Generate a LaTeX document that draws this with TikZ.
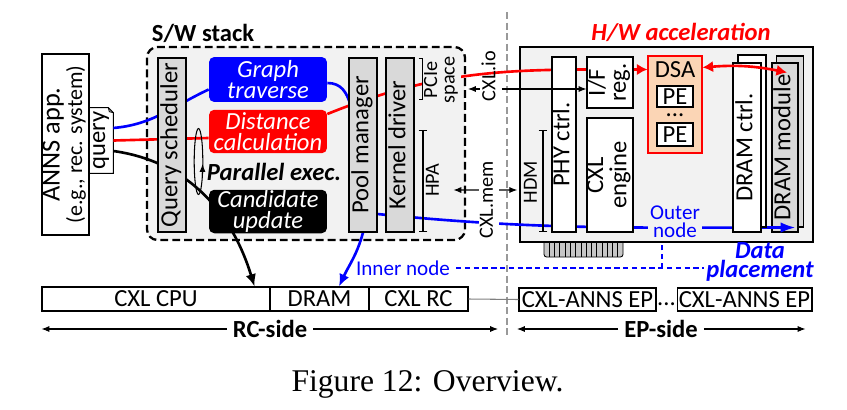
\documentclass[tikz,border=0pt]{standalone}
\usepackage{fontspec}
\setmainfont{Carlito}
\newfontfamily\capfont{Liberation Serif}
\usepackage{graphicx}
\usepackage{xcolor}
\usepackage{tikz}
\usetikzlibrary{arrows.meta,calc}

\definecolor{swgray}{HTML}{F2F2F2}
\definecolor{blkgray}{HTML}{D9D9D9}
\definecolor{dsaorange}{HTML}{FBD5B5}
\definecolor{divgray}{HTML}{999999}

\pgfdeclarelayer{back}
\pgfdeclarelayer{bg}
\pgfdeclarelayer{front}
\pgfsetlayers{back,bg,main,front}

\newcommand{\vtext}[1]{\rotatebox{90}{\begin{tabular}{@{}c@{}}#1\end{tabular}}}

\begin{document}
\begin{tikzpicture}[x=0.02cm,y=0.02cm,>={Latex[length=4.5pt,width=3.5pt]},
    font=\fontsize{14}{12}\selectfont,
    box/.style={draw,line width=0.6pt,fill=white,inner sep=0pt},
    graybox/.style={box,fill=blkgray},
    task/.style={rounded corners=3pt,inner sep=0pt,text=white,align=center,
      font=\fontsize{14}{12}\selectfont\itshape,minimum width=2.36cm,minimum height=0.87cm},
    small/.style={font=\fontsize{11.5}{10}\selectfont,inner sep=0.5pt},
    bracket/.style={line width=0.6pt,{Bar[width=5pt]}-{Bar[width=5pt]}},
    wire/.style={line width=1.5pt}]
  \useasboundingbox (0,0) rectangle (847,-409);

  % S/W stack
  \node[font=\fontsize{14}{12}\selectfont\bfseries] (swlabel) at (203,-33) {S/W stack};
  \node[box,minimum width=0.94cm,minimum height=3.62cm] (app) at (65.5,-144.5)
    {\vtext{{\fontsize{15}{12}\selectfont ANNS app.}\\{\fontsize{12.5}{12}\selectfont (e.g., rec. system)}}};
  \node[inner sep=0pt,minimum width=0.48cm,minimum height=1.30cm] (query) at (101,-140.5) {\vtext{query}};
  \node[graybox,minimum width=0.56cm,minimum height=3.48cm] (qs) at (172,-145) {\vtext{Query scheduler}};
  \node[task,fill=blue,minimum height=0.90cm] (gt) at (268,-79.5) {Graph\\traverse};
  \node[task,fill=red] (dc) at (268,-131.5) {Distance\\calculation};
  \node[task,fill=black] (cu) at (268,-211.5) {Candidate\\update};
  \node[font=\fontsize{14}{12}\selectfont\bfseries\itshape] (par) at (274,-172) {Parallel exec.};
  \draw[line width=0.6pt] (198.5,-161.5) ellipse (4.3 and 33);
  \draw[->,line width=0.6pt] (202.4,-177) -- (202.6,-164);
  \node[graybox,minimum width=0.56cm,minimum height=3.48cm] (pool) at (363,-145) {\vtext{Pool manager}};
  \node[graybox,minimum width=0.56cm,minimum height=3.48cm] (kd) at (400,-145) {\vtext{Kernel driver}};
  \draw[bracket] (423,-58) -- (423,-100);
  \node[small,fill=swgray] (pcie) at (442,-80) {\vtext{PCIe\\space}};
  \draw[bracket] (423,-130) -- (423,-232);
  \node[small] (hpa) at (435,-180) {\vtext{HPA}};
  \node[small] (cxlio) at (491,-76) {\vtext{CXL.io}};
  \node[small,fill=white] (cxlmem) at (489,-200) {\vtext{CXL.mem}};

  % H/W acceleration
  \node[text=red,font=\fontsize{14}{12}\selectfont\bfseries\itshape] (hwlabel) at (681,-32) {H/W acceleration};
  \node[box,minimum width=0.48cm,minimum height=3.50cm] (phy) at (564,-144.5) {\vtext{PHY ctrl.}};
  \node[box,minimum width=0.92cm,minimum height=1.02cm] (iff) at (610,-82.5) {\vtext{I/F\\reg.}};
  \node[box,minimum width=0.92cm,minimum height=2.28cm] (eng) at (610,-175) {\vtext{CXL\\engine}};
  \node[draw=red,line width=0.6pt,fill=dsaorange,minimum width=1.08cm,minimum height=1.94cm] (dsa) at (675,-104.5) {};
  \node (dsatxt) at (675,-70) {DSA};
  \node[box,minimum width=0.72cm,minimum height=0.42cm] (pe1) at (675,-96.5) {PE};
  \node[inner sep=0pt] (pedots) at (675,-115) {...};
  \node[box,minimum width=0.72cm,minimum height=0.46cm] (pe2) at (675,-134.5) {PE};
  \draw[bracket] (543,-130) -- (543,-232);
  \node[small] (hdm) at (533,-182) {\vtext{HDM}};
  \node[box,minimum width=0.56cm,minimum height=3.44cm] (dctrlb) at (752,-141) {};
  \node[box,minimum width=0.56cm,minimum height=3.38cm] (dctrl) at (747,-147.5) {\vtext{DRAM ctrl.}};
  \node[text=blue,fill=swgray,font=\fontsize{12}{10}\selectfont,align=center,inner sep=1pt] (outer) at (675,-222) {Outer\\node};

  % host side and end points
  \node[box,minimum width=4.56cm,minimum height=0.48cm] (cpu) at (156,-299) {CXL CPU};
  \node[box,minimum width=1.98cm,minimum height=0.48cm] (dram) at (319.5,-299) {DRAM};
  \node[box,minimum width=1.98cm,minimum height=0.48cm] (rc) at (418.5,-299) {CXL RC};
  \node[box,minimum width=2.74cm,minimum height=0.46cm] (ep1) at (587.5,-299.5) {CXL-ANNS EP};
  \node[inner sep=0pt] (epdots) at (666.5,-304) {...};
  \node[box,minimum width=2.70cm,minimum height=0.46cm] (ep2) at (744.5,-299.5) {CXL-ANNS EP};
  \draw[gray,line width=0.6pt] (rc.east) -- (ep1.west);
  \node[text=blue,font=\fontsize{12}{12}\selectfont] (inner) at (403,-268) {Inner node};
  \node[text=blue,font=\fontsize{14}{10.5}\selectfont\bfseries\itshape,align=center,inner sep=1pt] (dp) at (760,-262) {Data\\placement};

  \coordinate (divtop) at (507,-12);
  \coordinate (divbot) at (507,-338);
  \node[font=\fontsize{14}{12}\selectfont\bfseries] (rcside) at (270,-329) {RC-side};
  \node[font=\fontsize{14}{12}\selectfont\bfseries] (epside) at (661,-329) {EP-side};
  \draw[->,line width=0.6pt] (rcside.west) -- (rcside.west -| cpu.west);
  \draw[->,line width=0.6pt] (rcside.east) -- ($(rcside.east -| divbot)+(-9,0)$);
  \draw[->,line width=0.6pt] (epside.west) -- ($(epside.west -| divbot)+(10,0)$);
  \draw[->,line width=0.6pt] (epside.east) -- ($(epside.east -| ep2.east)+(-7,0)$);

  \node[font=\capfont\fontsize{18}{20}\selectfont] (caption) at (427.5,-384) {Figure 12: Overview.};

  \begin{pgfonlayer}{back}
    \draw[line width=1.3pt,dash pattern=on 4.5pt off 2.3pt,rounded corners=6pt,fill=swgray]
      (147,-47) rectangle (465,-240);
    \draw[fill=gray!45,rounded corners=1.5pt,line width=0.5pt] (544,-236) rectangle (623,-257);
    \foreach \i in {1,...,14}
      \draw[line width=0.4pt] (544+\i*5.27,-242) -- ++(0,-15);
    \node[draw,line width=0.9pt,fill=swgray,minimum width=5.86cm,minimum height=3.90cm] (hw) at (666.5,-144.5) {};
    \draw[divgray,line width=1.2pt,dash pattern=on 4pt off 2pt] (divtop) -- (divbot);
    \node[graybox,minimum width=0.54cm,minimum height=3.42cm] (dmodb) at (790,-141.5) {};
    \node[graybox,minimum width=0.52cm,minimum height=3.38cm] (dmod) at (785,-147.5) {\vtext{DRAM module}};
  \end{pgfonlayer}

  \begin{pgfonlayer}{bg}
    \draw[fill=white,line width=0.6pt] (query.south west) -- (query.north west)
      -- ($(query.north east)+(-5,0)$) -- ($(query.north east)+(0,-5)$) -- (query.south east) -- cycle;
    \draw[line width=0.5pt] ($(query.north east)+(-5,0)$) -- ($(query.north east)+(-4,-4)$) -- ($(query.north east)+(0,-5)$);
    \draw[wire,blue] ($(query.east)+(0,12.5)$) to[out=5,in=205] ($(gt.west)+(0,-10)$);
    \draw[wire,red] (query.east) -- ($(dc.west)+(0,-6.5)$);
    \draw[wire,-{Latex[length=7pt,width=6pt]}] ($(query.east)+(0,-10.5)$) to[out=-8,in=107] ($(cpu.north east)+(-16,0)$);
    \draw[wire,blue] ($(gt.east)+(0,-3.5)$) to[out=0,in=120] (pool.center);
    \draw[wire,red,-{Latex[length=6pt,width=6.5pt]}] ($(dc.east)+(0,17.5)$) to[out=22,in=180] ($(dsa.north west)+(0,-14)$);
    \draw[wire,blue,-{Latex[length=8.5pt,width=6pt]}] ($(pool.south)+(0,20)$) to[out=-6,in=180] ($(dmod.south east)+(-3,5)$);
    \draw[wire,blue,-{Latex[length=7pt,width=6pt]}] (pool.south) to[out=-105,in=65] ($(dram.north)+(19.5,0)$);
    \draw[<->,line width=0.6pt] ($(hpa.east)+(8,-10)$) -- ($(hw.west)+(-2,-45.5)$);
    \draw[blue,line width=0.9pt,dash pattern=on 3pt off 2pt] (inner.east) -- (inner.east -| dp.west);
    \coordinate (dpj) at (662,-268);
    \draw[blue,line width=0.9pt,dash pattern=on 3pt off 2pt] (dpj) -- (dpj |- hw.south);
  \end{pgfonlayer}

  \begin{pgfonlayer}{front}
    \coordinate (ioend) at (468,-89);
    \draw[<-,line width=0.6pt] (ioend) -- (ioend -| cxlio.west);
    \draw[->,line width=0.6pt] (ioend -| cxlio.east) -- (ioend -| iff.west);
    \draw[wire,red,{Latex[length=6pt,width=6.5pt]}-{Latex[length=6pt,width=6.5pt]}]
      ($(dsa.north east)+(0,-12)$) to[bend left=8] ($(dmod.north)+(2,-10)$);
  \end{pgfonlayer}
\end{tikzpicture}
\end{document}
